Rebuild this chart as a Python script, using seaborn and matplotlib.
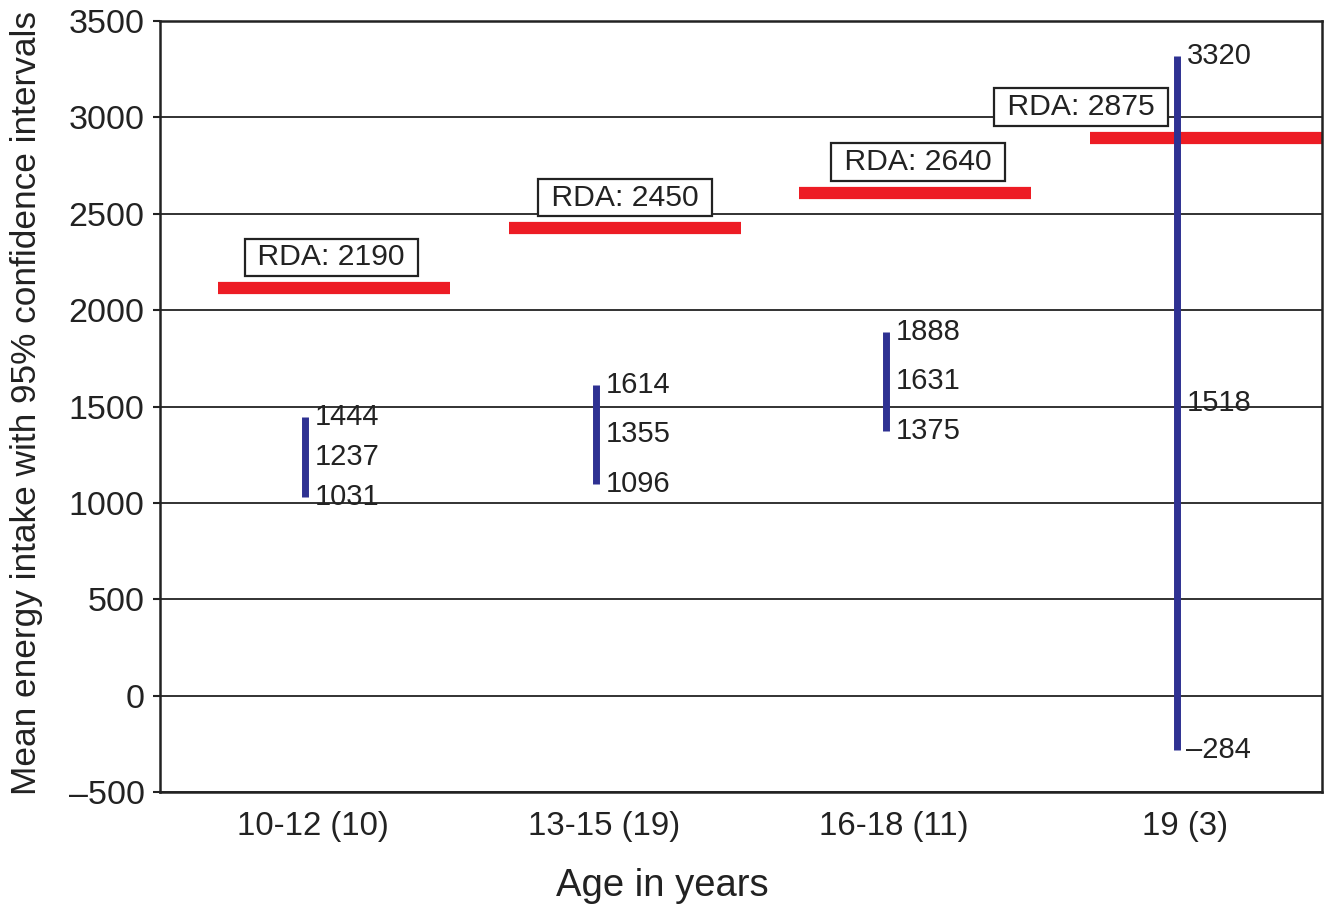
"""Energia media con intervalos de confianza del 95% por grupo de edad."""

import matplotlib.pyplot as plt
import pandas as pd
import seaborn as sns
from matplotlib.transforms import ScaledTranslation

# datos
age_groups = ["10-12 (10)", "13-15 (19)", "16-18 (11)", "19 (3)"]
ci_low = [1031, 1096, 1375, -284]
ci_mean = [1237, 1355, 1631, 1518]
ci_high = [1444, 1614, 1888, 3320]
rda_values = [2190, 2450, 2640, 2875]
rda_line = [2115, 2425, 2610, 2895]  # altura de la barra roja tal como aparece

# ajustes de posicion de las etiquetas RDA (en unidades de categoria)
rda_label_dx = [0.09, 0.10, 0.11, -0.33]

BLUE = "#2e3192"
RED = "#ed1c24"
DARK = "#222222"

sns.set_theme(style="ticks")
plt.rcParams["font.family"] = ["Liberation Sans", "DejaVu Sans"]

df = pd.DataFrame(
    {
        "age": age_groups * 2,
        "energy": ci_low + ci_high,
    }
)

fig = plt.figure(figsize=(13.31, 9.06), dpi=100)
ax = fig.add_axes([0.1202, 0.1258, 0.873, 0.851])

sns.pointplot(
    data=df,
    x="age",
    y="energy",
    order=age_groups,
    errorbar=lambda v: (v.min(), v.max()),
    linestyle="none",
    marker="",
    color=BLUE,
    err_kws={"linewidth": 5, "color": BLUE, "solid_capstyle": "butt"},
    ax=ax,
    zorder=3,
)

# lineas RDA
for i, (line_y, rda) in enumerate(zip(rda_line, rda_values)):
    ax.hlines(line_y, i - 0.3, i + 0.5, color=RED, linewidth=8.8, zorder=2)
    ax.annotate(
        f" RDA: {rda} ",
        xy=(i + rda_label_dx[i], line_y),
        xytext=(0, 22),
        textcoords="offset points",
        ha="center",
        va="center",
        fontsize=21.7,
        color=DARK,
        bbox=dict(boxstyle="square,pad=0.16", fc="white", ec=DARK, lw=1.6),
        zorder=4,
    )

# etiquetas de valores
for i in range(len(age_groups)):
    for val in (ci_high[i], ci_mean[i], ci_low[i]):
        txt = f"{val}".replace("-", "\u2013")
        ax.annotate(
            txt,
            xy=(i, val),
            xytext=(7, 0),
            textcoords="offset points",
            ha="left",
            va="center",
            fontsize=21,
            color=DARK,
            zorder=5,
        )

ax.set_xlim(-0.5, 3.5)
ax.set_ylim(-500, 3500)
ax.set_yticks(range(-500, 3501, 500))
ax.set_yticklabels([f"{t}".replace("-", "\u2013") for t in range(-500, 3501, 500)])
ax.yaxis.grid(True, color=DARK, linewidth=1.3)
ax.set_axisbelow(True)

ax.tick_params(axis="y", length=5, width=1.5, color=DARK, labelsize=24.5, pad=6, labelcolor=DARK)
ax.tick_params(axis="x", length=0, labelsize=23.8, pad=14, labelcolor=DARK)

# las etiquetas del eje x estan un poco desplazadas a la derecha en el original
shift = ScaledTranslation(8 / 100, 0, fig.dpi_scale_trans)
for label in ax.get_xticklabels():
    label.set_transform(label.get_transform() + shift)

for spine in ax.spines.values():
    spine.set_visible(True)
    spine.set_color(DARK)
    spine.set_linewidth(1.8)

ax.set_xlabel("Age in years", fontsize=27.5, color=DARK)
ax.xaxis.set_label_coords(0.432, -0.099)
ax.set_ylabel("Mean energy intake with 95% confidence intervals", fontsize=25.4, color=DARK)
ax.yaxis.set_label_coords(-0.1007, 0.505)

plt.savefig("out.png", dpi=100)
plt.close(fig)
